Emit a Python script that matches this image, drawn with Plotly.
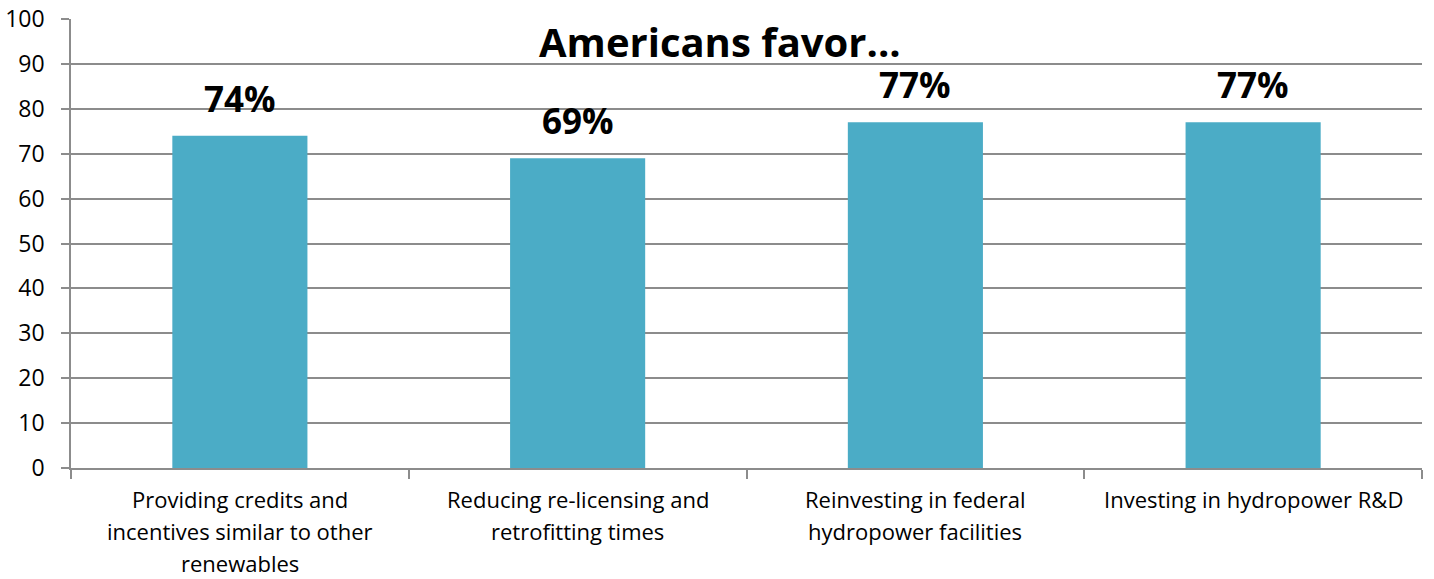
import plotly.graph_objects as go

categories = [
    "Providing credits and<br>incentives similar to other<br>renewables",
    "Reducing re-licensing and<br>retrofitting times",
    "Reinvesting in federal<br>hydropower facilities",
    "Investing in hydropower R&D",
]
values = [74, 69, 77, 77]
labels = ["74%", "69%", "77%", "77%"]
y_ticks = list(range(0, 101, 10))
title_text = "Americans favor..."

FONT = "Open Sans"
GRID = "#8c8c8c"
BAR = "#4BACC6"

W, H = 1434, 579
L, R, T, B = 71, 12, 19, 111

fig = go.Figure()
fig.add_trace(go.Bar(
    x=list(range(len(categories))),
    y=values,
    marker=dict(color=BAR, line=dict(width=0)),
    width=0.4,
    hoverinfo="skip",
))

for i, (v, lab) in enumerate(zip(values, labels)):
    fig.add_annotation(
        x=i, y=v, text=f"<b>{lab}</b>", showarrow=False,
        xref="x", yref="y", yanchor="bottom", yshift=12,
        font=dict(family=FONT, size=35, color="#000000"),
    )

# category labels, one annotation per line for Excel-like line spacing
for i, cat in enumerate(categories):
    for j, line in enumerate(cat.split("<br>")):
        fig.add_annotation(
            x=i, y=0, xref="x", yref="paper", text=line, showarrow=False,
            yanchor="middle", yshift=-31 - 32 * j,
            font=dict(family=FONT, size=22, color="#000000"),
        )

plot_w = W - L - R
fig.add_annotation(
    x=(720 - L) / plot_w, y=95, xref="paper", yref="y", text=f"<b>{title_text}</b>",
    showarrow=False, yanchor="middle",
    font=dict(family=FONT, size=40, color="#000000"),
)

fig.update_layout(
    width=W, height=H,
    margin=dict(l=L, r=R, t=T, b=B),
    paper_bgcolor="white", plot_bgcolor="white",
    showlegend=False,
    font=dict(family=FONT, size=20, color="#000000"),
)
fig.update_xaxes(
    range=[-0.5, len(categories) - 0.5],
    tickmode="array",
    tickvals=list(range(len(categories))),
    showticklabels=False,
    showgrid=False,
    showline=True, linecolor=GRID, linewidth=1.5,
    ticks="",
    zeroline=False, automargin=False,
    minor=dict(tickmode="array", tickvals=[i - 0.5 for i in range(len(categories) + 1)],
               ticks="outside", ticklen=9, tickcolor=GRID, tickwidth=1.5, showgrid=False),
)
fig.update_yaxes(
    range=[0, 100],
    tickmode="array", tickvals=y_ticks,
    showgrid=True, gridcolor=GRID, gridwidth=1.5,
    showline=True, linecolor=GRID, linewidth=1.5,
    ticks="outside", ticklen=8, tickcolor=GRID, tickwidth=1.5,
    tickfont=dict(family=FONT, size=23),
    ticklabelstandoff=12,
    zeroline=False, automargin=False,
)

fig.write_html(
    "out.html",
    config={"displayModeBar": False},
    post_script="document.body.style.margin='0';document.body.style.overflow='hidden';",
)
